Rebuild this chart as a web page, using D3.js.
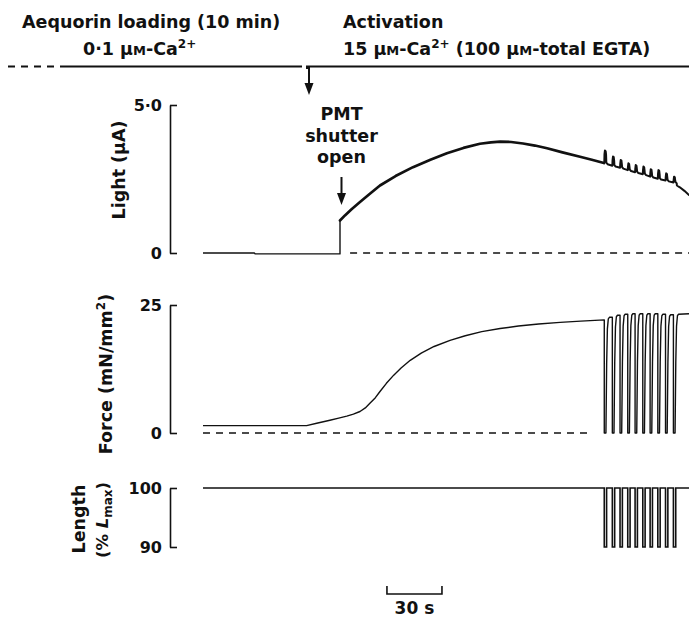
<!DOCTYPE html>
<html><head><meta charset="utf-8">
<script src="https://cdn.jsdelivr.net/npm/d3@7"></script>
<style>
body{margin:0;background:#fff}
svg{display:block;background:#fff}
text{font-family:"DejaVu Sans",Verdana,sans-serif;font-weight:bold;fill:#111}
</style></head><body>
<svg id="c" width="689" height="619"></svg>
<script>
// ---------------- data (time in s) ----------------
const timeRange = [0, 265];
const activationTime = 57.8;
const shutterTime = 74.7;
const scaleBarStart = 100.3;
const scaleBarSeconds = 30;

// light (µA)
const lightAxisTicks = [0, 5];
const lightPreT = [0, 28, 28.5, 74.7, 74.7];
const lightPreV = [0, 0, -0.03, -0.03, 1.1];
const lightT = [74.7, 77.4, 81, 85.6, 91, 96.5, 105, 114.5, 124, 133, 142, 151, 157, 162, 168, 174.5, 181, 187.6, 196, 205.6, 212, 218.6];
const lightV = [1.1, 1.27, 1.48, 1.72, 2.0, 2.28, 2.6, 2.9, 3.15, 3.37, 3.55, 3.69, 3.74, 3.76, 3.75, 3.70, 3.63, 3.54, 3.40, 3.25, 3.15, 3.04];
const releaseTimes = [218.8, 223.2, 227.4, 231.6, 235.6, 239.8, 243.8, 248.0, 252.2, 256.5];
const lightSpikePeak = [3.46, 3.26, 3.14, 3.03, 2.97, 2.92, 2.83, 2.80, 2.69, 2.58];
const lightSpikeBase = [3.03, 2.95, 2.88, 2.80, 2.73, 2.66, 2.58, 2.51, 2.45, 2.38];
const lightTailT = [258.4, 260, 262.5, 265];
const lightTailV = [2.28, 2.22, 2.1, 1.96];
const lightZeroDash = [80.2, 265];

// force (mN/mm²)
const forceAxisTicks = [0, 25];
const forceT = [0, 56.5, 62, 69.2, 74, 78.4, 82, 85.6, 88.5, 91, 94, 96.5, 100, 104, 108, 113, 119, 126, 134.7, 143, 152, 162, 172, 183, 194.7, 206, 218.8];
const forceV = [1.45, 1.45, 1.9, 2.5, 2.9, 3.3, 3.7, 4.2, 4.9, 5.8, 6.9, 8.1, 9.7, 11.3, 12.7, 14.2, 15.6, 16.9, 18.1, 19.0, 19.8, 20.4, 20.9, 21.3, 21.6, 21.85, 22.1];
const forceTops = [22.6, 23.0, 23.2, 23.3, 23.3, 23.3, 23.3, 23.2, 23.1, 23.2];
const forceTailT = [265];
const forceTailV = [23.3];
const forceZeroDash = [0, 212];

// length (% Lmax)
const lengthAxisTicks = [90, 100];
const lengthRest = 100;
const lengthReleased = 90;
const releaseDuration = 1.27;

// ---------------- scales ----------------
const svg = d3.select('#c');
const x = d3.scaleLinear().domain(timeRange).range([203, 689]);
const yLight = d3.scaleLinear().domain([0, 5]).range([253, 105]);
const yForce = d3.scaleLinear().domain([0, 25]).range([433, 305]);
const yLen = d3.scaleLinear().domain([90, 100]).range([547, 488]);
const INK = '#111';

// ---------------- helpers ----------------
function drawPath(pts, y, width, dash) {
  const line = d3.line().x(d => x(d[0])).y(d => y(d[1]));
  const p = svg.append('path').attr('d', line(pts)).attr('fill', 'none')
    .attr('stroke', INK).attr('stroke-width', width).attr('stroke-linejoin', 'round');
  if (dash) p.attr('stroke-dasharray', dash);
  return p;
}
function bracket(scale, ticks, fmt) {
  const g = svg.append('g').attr('transform', 'translate(170,0)')
    .call(d3.axisLeft(scale).tickValues(ticks).tickFormat(fmt)
      .tickSizeInner(-7).tickSizeOuter(0).tickPadding(8));
  g.select('.domain').attr('stroke', INK).attr('stroke-width', 1.6);
  g.selectAll('.tick line').attr('stroke', INK).attr('stroke-width', 1.6);
  g.selectAll('.tick text').attr('font-family', '"DejaVu Sans",Verdana,sans-serif')
    .attr('font-weight', 'bold').attr('font-size', 16).attr('fill', INK);
  g.attr('font-family', null).attr('font-size', null);
}
function arrowDown(xp, y0, y1) {
  svg.append('line').attr('x1', xp).attr('x2', xp).attr('y1', y0).attr('y2', y1 - 6)
    .attr('stroke', INK).attr('stroke-width', 2);
  svg.append('path').attr('d', `M${xp - 4.5},${y1 - 12} L${xp + 4.5},${y1 - 12} L${xp},${y1} Z`).attr('fill', INK);
}

// ---------------- header ----------------
const hdr = svg.append('g').attr('font-size', 17.5);
hdr.append('text').attr('x', 22).attr('y', 28).text('Aequorin loading (10 min)');
const h2 = hdr.append('text').attr('x', 83).attr('y', 55);
h2.append('tspan').text('0·1 μ');
h2.append('tspan').attr('font-size', 13).text('M');
h2.append('tspan').text('-Ca');
h2.append('tspan').attr('font-size', 12).attr('dy', -7).text('2+');
hdr.append('text').attr('x', 343).attr('y', 28).text('Activation');
const h4 = hdr.append('text').attr('x', 343).attr('y', 55);
h4.append('tspan').text('15 μ');
h4.append('tspan').attr('font-size', 13).text('M');
h4.append('tspan').text('-Ca');
h4.append('tspan').attr('font-size', 12).attr('dy', -7).text('2+');
h4.append('tspan').attr('dy', 7).text(' (100 μ');
h4.append('tspan').attr('font-size', 13).text('M');
h4.append('tspan').text('-total EGTA)');

svg.append('line').attr('x1', 8).attr('x2', 58).attr('y1', 66.5).attr('y2', 66.5)
  .attr('stroke', INK).attr('stroke-width', 2).attr('stroke-dasharray', '7,6');
svg.append('line').attr('x1', 60).attr('x2', 302).attr('y1', 66.5).attr('y2', 66.5)
  .attr('stroke', INK).attr('stroke-width', 2);
svg.append('path').attr('d', `M${x(activationTime) - 2},69 V66.5 H689`).attr('fill', 'none')
  .attr('stroke', INK).attr('stroke-width', 2);
arrowDown(x(activationTime), 66.5, 95);

// ---------------- light panel ----------------
bracket(yLight, lightAxisTicks, d => d === 0 ? '0' : d.toFixed(1).replace('.', '·'));
svg.append('text').attr('font-size', 17.5).attr('text-anchor', 'middle')
  .attr('transform', 'translate(125,170) rotate(-90)').text('Light (μA)');

drawPath(lightPreT.map((t, i) => [t, lightPreV[i]]), yLight, 1.4);
const lightMain = lightT.map((t, i) => [t, lightV[i]]);
drawPath(lightMain, yLight, 2.7).attr('stroke-linecap', 'round');
// oscillation section: narrow inverted-U light transients on a falling baseline
const lightOsc = [[lightT[lightT.length - 1], lightV[lightV.length - 1]]];
releaseTimes.forEach((r, i) => {
  const b = lightSpikeBase[i], p = lightSpikePeak[i];
  lightOsc.push([r, b], [r + 0.12, p - 0.12], [r + 0.35, p], [r + 0.75, p - 0.02], [r + 0.98, p - 0.14], [r + 1.12, b + 0.02], [r + 1.8, b - 0.03]);
});
lightTailT.forEach((t, i) => lightOsc.push([t, lightTailV[i]]));
drawPath(lightOsc, yLight, 2).attr('stroke-linecap', 'round');
drawPath(lightZeroDash.map(t => [t, 0]), yLight, 1.5, '7,6');

const pmt = svg.append('g').attr('font-size', 17.5).attr('text-anchor', 'middle');
const px = x(shutterTime) + 1.5;
pmt.append('text').attr('x', px).attr('y', 120).text('PMT');
pmt.append('text').attr('x', px).attr('y', 142).text('shutter');
pmt.append('text').attr('x', px).attr('y', 163).text('open');
arrowDown(px, 177, 205);

// ---------------- force panel ----------------
bracket(yForce, forceAxisTicks, d => String(d));
const fl = svg.append('text').attr('font-size', 17.5).attr('text-anchor', 'middle')
  .attr('transform', 'translate(112,374) rotate(-90)');
fl.append('tspan').text('Force (mN/mm');
fl.append('tspan').attr('font-size', 12).attr('dy', -7).text('2');
fl.append('tspan').attr('dy', 7).text(')');

const force = forceT.map((t, i) => [t, forceV[i]]);
releaseTimes.forEach((r, i) => {
  const prevTop = i === 0 ? forceV[forceV.length - 1] : forceTops[i - 1];
  const top = forceTops[i];
  force.push([r, prevTop], [r, 0], [r + 0.9, 0], [r + 1.3, top * 0.6], [r + 1.7, top * 0.9], [r + 2.2, top - 0.3], [r + 2.8, top]);
});
forceTailT.forEach((t, i) => force.push([t, forceTailV[i]]));
drawPath(force, yForce, 1.4);
drawPath(forceZeroDash.map(t => [t, 0]), yForce, 1.5, '7,6');

// ---------------- length panel ----------------
bracket(yLen, lengthAxisTicks, d => String(d));
svg.append('text').attr('font-size', 17.5).attr('text-anchor', 'middle')
  .attr('transform', 'translate(85,519) rotate(-90)').text('Length');
const ll = svg.append('text').attr('font-size', 16.5).attr('text-anchor', 'middle')
  .attr('transform', 'translate(108,520) rotate(-90)');
ll.append('tspan').text('(% ');
ll.append('tspan').attr('font-style', 'italic').text('L');
ll.append('tspan').attr('font-size', 12).attr('dy', 4).text('max');
ll.append('tspan').attr('dy', -4).text(')');

const len = [[timeRange[0], lengthRest]];
releaseTimes.forEach(r => {
  len.push([r, lengthRest], [r, lengthReleased], [r + releaseDuration, lengthReleased], [r + releaseDuration, lengthRest]);
});
len.push([timeRange[1], lengthRest]);
drawPath(len, yLen, 1.6).attr('stroke-linejoin', 'miter');

// ---------------- time scale bar ----------------
const sb0 = x(scaleBarStart), sb1 = x(scaleBarStart + scaleBarSeconds);
svg.append('path').attr('d', `M${sb0},586 V594 H${sb1} V586`).attr('fill', 'none')
  .attr('stroke', INK).attr('stroke-width', 1.6);
svg.append('text').attr('font-size', 17).attr('text-anchor', 'middle')
  .attr('x', (sb0 + sb1) / 2).attr('y', 614).text(scaleBarSeconds + ' s');
</script>
</body></html>
